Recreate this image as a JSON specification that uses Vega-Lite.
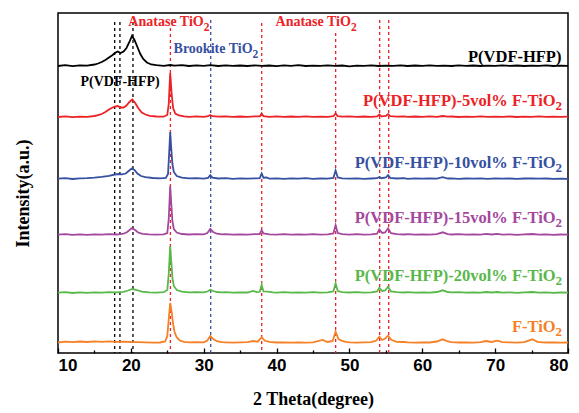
{
"$schema": "https://vega.github.io/schema/vega-lite/v6.json",
"width": 510, "height": 340,
"autosize": {"type": "none"},
"padding": {"left": 58, "top": 13, "right": 11, "bottom": 60},
"background": "white",
"config": {"view": {"stroke": "#000000", "strokeWidth": 1.5}, "font": "Liberation Serif"},
"datasets": {
"xrd": [
{"k":"a","x":10,"y":288},{"k":"a","x":11,"y":288.8},{"k":"a","x":12,"y":287.8},{"k":"a","x":13,"y":288.6},{"k":"a","x":14,"y":288.4},{"k":"a","x":15,"y":289.5},{"k":"a","x":15.5,"y":290.5},{"k":"a","x":16,"y":292},{"k":"a","x":16.5,"y":294},{"k":"a","x":17,"y":296.5},{"k":"a","x":17.5,"y":299},{"k":"a","x":17.8,"y":301},{"k":"a","x":18.2,"y":302.5},{"k":"a","x":18.6,"y":301},{"k":"a","x":19,"y":302.5},{"k":"a","x":19.4,"y":306},{"k":"a","x":19.8,"y":312},{"k":"a","x":20.15,"y":318},{"k":"a","x":20.5,"y":314},{"k":"a","x":20.9,"y":307},{"k":"a","x":21.3,"y":300},{"k":"a","x":21.7,"y":295},{"k":"a","x":22.2,"y":291.5},{"k":"a","x":22.8,"y":289.5},{"k":"a","x":23.5,"y":288.8},{"k":"a","x":24.5,"y":288.2},{"k":"a","x":25.4,"y":289},{"k":"a","x":26,"y":288.4},{"k":"a","x":27,"y":288.8},{"k":"a","x":28,"y":288},{"k":"a","x":29,"y":288.6},{"k":"a","x":30,"y":288.2},{"k":"a","x":30.9,"y":288.8},{"k":"a","x":32,"y":288},{"k":"a","x":33,"y":288.7},{"k":"a","x":34,"y":288.2},{"k":"a","x":35,"y":288.5},{"k":"a","x":36,"y":288},{"k":"a","x":37,"y":288.6},{"k":"a","x":38,"y":288.1},{"k":"a","x":39,"y":288.5},{"k":"a","x":40,"y":287.9},{"k":"a","x":41,"y":288.6},{"k":"a","x":42,"y":288.2},{"k":"a","x":43,"y":288.8},{"k":"a","x":44,"y":288},{"k":"a","x":45,"y":288.4},{"k":"a","x":46,"y":288.1},{"k":"a","x":47,"y":288.7},{"k":"a","x":48,"y":288.2},{"k":"a","x":49,"y":288.5},{"k":"a","x":50,"y":287.7},{"k":"a","x":51,"y":288.4},{"k":"a","x":52,"y":288.1},{"k":"a","x":53,"y":288.6},{"k":"a","x":54,"y":288},{"k":"a","x":55,"y":288.4},{"k":"a","x":56,"y":288.1},{"k":"a","x":57,"y":288.6},{"k":"a","x":58,"y":288},{"k":"a","x":59,"y":288.5},{"k":"a","x":60,"y":288.1},{"k":"a","x":61,"y":288.7},{"k":"a","x":62,"y":288.2},{"k":"a","x":63,"y":288.4},{"k":"a","x":64,"y":288},{"k":"a","x":65,"y":288.6},{"k":"a","x":66,"y":288.2},{"k":"a","x":67,"y":288.5},{"k":"a","x":68,"y":288},{"k":"a","x":69,"y":288.4},{"k":"a","x":70,"y":288.2},{"k":"a","x":71,"y":288.7},{"k":"a","x":72,"y":288.1},{"k":"a","x":73,"y":288.5},{"k":"a","x":74,"y":288},{"k":"a","x":75,"y":288.4},{"k":"a","x":76,"y":288.2},{"k":"a","x":77,"y":288.6},{"k":"a","x":78,"y":288},{"k":"a","x":79,"y":288.4},{"k":"a","x":80,"y":288.2},
{"k":"b","x":10,"y":237},{"k":"b","x":11,"y":237.6},{"k":"b","x":12,"y":236.8},{"k":"b","x":13,"y":237.4},{"k":"b","x":14,"y":237.2},{"k":"b","x":15,"y":238},{"k":"b","x":15.5,"y":238.8},{"k":"b","x":16,"y":240},{"k":"b","x":16.5,"y":242},{"k":"b","x":17,"y":244.5},{"k":"b","x":17.5,"y":246.5},{"k":"b","x":17.8,"y":247.5},{"k":"b","x":18.2,"y":248},{"k":"b","x":18.6,"y":246.5},{"k":"b","x":19,"y":246.5},{"k":"b","x":19.4,"y":248.5},{"k":"b","x":19.8,"y":252},{"k":"b","x":20.2,"y":254.5},{"k":"b","x":20.6,"y":251},{"k":"b","x":21,"y":246},{"k":"b","x":21.5,"y":241.5},{"k":"b","x":22,"y":239.5},{"k":"b","x":22.6,"y":238.2},{"k":"b","x":23.5,"y":237.5},{"k":"b","x":24.5,"y":237.3},{"k":"b","x":25,"y":239},{"k":"b","x":25.2,"y":250},{"k":"b","x":25.4,"y":281},{"k":"b","x":25.6,"y":260},{"k":"b","x":25.8,"y":246},{"k":"b","x":26.1,"y":240.5},{"k":"b","x":26.6,"y":238.5},{"k":"b","x":27.3,"y":237.6},{"k":"b","x":28,"y":237.2},{"k":"b","x":29,"y":237.7},{"k":"b","x":30,"y":237.2},{"k":"b","x":30.6,"y":237.8},{"k":"b","x":30.9,"y":239},{"k":"b","x":31.2,"y":237.8},{"k":"b","x":32,"y":237.3},{"k":"b","x":33,"y":237.7},{"k":"b","x":34,"y":237.1},{"k":"b","x":35,"y":237.5},{"k":"b","x":36,"y":237.2},{"k":"b","x":37,"y":237.6},{"k":"b","x":37.7,"y":237.6},{"k":"b","x":37.95,"y":240.5},{"k":"b","x":38.2,"y":237.8},{"k":"b","x":39,"y":237.2},{"k":"b","x":40,"y":237.6},{"k":"b","x":41,"y":237.1},{"k":"b","x":42,"y":237.5},{"k":"b","x":43,"y":237.2},{"k":"b","x":44,"y":237.7},{"k":"b","x":45,"y":237.1},{"k":"b","x":46,"y":237.4},{"k":"b","x":47,"y":237.2},{"k":"b","x":47.8,"y":237.8},{"k":"b","x":48.1,"y":240.5},{"k":"b","x":48.4,"y":237.8},{"k":"b","x":49,"y":237.3},{"k":"b","x":50,"y":237.6},{"k":"b","x":51,"y":237.1},{"k":"b","x":52,"y":237.5},{"k":"b","x":53,"y":237.2},{"k":"b","x":53.8,"y":237.6},{"k":"b","x":54.1,"y":239.5},{"k":"b","x":54.4,"y":237.6},{"k":"b","x":55,"y":238},{"k":"b","x":55.3,"y":239.8},{"k":"b","x":55.6,"y":237.8},{"k":"b","x":56.5,"y":237.3},{"k":"b","x":57.5,"y":237.6},{"k":"b","x":58,"y":237.1},{"k":"b","x":59,"y":237.5},{"k":"b","x":60,"y":237.2},{"k":"b","x":61,"y":237.6},{"k":"b","x":62,"y":237.1},{"k":"b","x":62.8,"y":238},{"k":"b","x":63.5,"y":237.3},{"k":"b","x":64,"y":237.5},{"k":"b","x":65,"y":237},{"k":"b","x":66,"y":237.4},{"k":"b","x":67,"y":237.1},{"k":"b","x":68,"y":237.6},{"k":"b","x":69,"y":237.2},{"k":"b","x":70,"y":237.4},{"k":"b","x":71,"y":237.1},{"k":"b","x":72,"y":237.5},{"k":"b","x":73,"y":237},{"k":"b","x":74,"y":237.4},{"k":"b","x":75,"y":237.2},{"k":"b","x":76,"y":237.6},{"k":"b","x":77,"y":237.1},{"k":"b","x":78,"y":237.4},{"k":"b","x":79,"y":237.2},{"k":"b","x":80,"y":237.3},
{"k":"c","x":10,"y":175.3},{"k":"c","x":11,"y":175.8},{"k":"c","x":12,"y":175},{"k":"c","x":13,"y":175.6},{"k":"c","x":14,"y":175.8},{"k":"c","x":15,"y":176.4},{"k":"c","x":16,"y":177.2},{"k":"c","x":17,"y":178.2},{"k":"c","x":17.8,"y":179.5},{"k":"c","x":18.3,"y":180},{"k":"c","x":18.8,"y":179.6},{"k":"c","x":19.3,"y":180.5},{"k":"c","x":19.7,"y":183},{"k":"c","x":20.1,"y":185.5},{"k":"c","x":20.5,"y":184},{"k":"c","x":20.9,"y":180.5},{"k":"c","x":21.4,"y":178},{"k":"c","x":22,"y":176.8},{"k":"c","x":23,"y":176},{"k":"c","x":24,"y":175.6},{"k":"c","x":24.8,"y":176},{"k":"c","x":25.1,"y":180},{"k":"c","x":25.25,"y":200},{"k":"c","x":25.4,"y":222},{"k":"c","x":25.55,"y":205},{"k":"c","x":25.7,"y":190},{"k":"c","x":25.9,"y":182},{"k":"c","x":26.3,"y":178},{"k":"c","x":27,"y":176.3},{"k":"c","x":28,"y":175.6},{"k":"c","x":29,"y":175.9},{"k":"c","x":30,"y":175.4},{"k":"c","x":30.6,"y":176.2},{"k":"c","x":30.9,"y":178.8},{"k":"c","x":31.2,"y":176.4},{"k":"c","x":32,"y":175.5},{"k":"c","x":33,"y":175.8},{"k":"c","x":34,"y":175.2},{"k":"c","x":35,"y":175.6},{"k":"c","x":36,"y":175.3},{"k":"c","x":37,"y":175.7},{"k":"c","x":37.7,"y":175.8},{"k":"c","x":37.95,"y":180.5},{"k":"c","x":38.2,"y":176.3},{"k":"c","x":38.6,"y":176.5},{"k":"c","x":39,"y":175.4},{"k":"c","x":40,"y":175.7},{"k":"c","x":41,"y":175.2},{"k":"c","x":42,"y":175.6},{"k":"c","x":43,"y":175.3},{"k":"c","x":44,"y":175.8},{"k":"c","x":45,"y":175.2},{"k":"c","x":46,"y":175.5},{"k":"c","x":47,"y":175.3},{"k":"c","x":47.8,"y":176},{"k":"c","x":48.1,"y":183.5},{"k":"c","x":48.4,"y":176.5},{"k":"c","x":49,"y":175.6},{"k":"c","x":50,"y":175.3},{"k":"c","x":51,"y":175.7},{"k":"c","x":52,"y":175.2},{"k":"c","x":53,"y":175.5},{"k":"c","x":53.8,"y":175.8},{"k":"c","x":54.1,"y":177},{"k":"c","x":54.4,"y":175.8},{"k":"c","x":55,"y":176.5},{"k":"c","x":55.3,"y":178.8},{"k":"c","x":55.6,"y":176.2},{"k":"c","x":56.5,"y":175.5},{"k":"c","x":57.5,"y":175.8},{"k":"c","x":58,"y":175.2},{"k":"c","x":59,"y":175.6},{"k":"c","x":60,"y":175.3},{"k":"c","x":61,"y":175.6},{"k":"c","x":62,"y":175.3},{"k":"c","x":62.8,"y":176.8},{"k":"c","x":63.5,"y":175.5},{"k":"c","x":64,"y":175.7},{"k":"c","x":65,"y":175.2},{"k":"c","x":66,"y":175.5},{"k":"c","x":67,"y":175.3},{"k":"c","x":68,"y":175.6},{"k":"c","x":69,"y":175.2},{"k":"c","x":70,"y":175.7},{"k":"c","x":71,"y":175.3},{"k":"c","x":72,"y":175.5},{"k":"c","x":73,"y":175.1},{"k":"c","x":74,"y":175.5},{"k":"c","x":75,"y":175.6},{"k":"c","x":76,"y":175.3},{"k":"c","x":77,"y":175.5},{"k":"c","x":78,"y":175.1},{"k":"c","x":79,"y":175.4},{"k":"c","x":80,"y":175.2},
{"k":"d","x":10,"y":119.3},{"k":"d","x":11,"y":119.8},{"k":"d","x":12,"y":119.1},{"k":"d","x":13,"y":119.6},{"k":"d","x":14,"y":119.2},{"k":"d","x":15,"y":119.7},{"k":"d","x":16,"y":119.4},{"k":"d","x":17,"y":119.9},{"k":"d","x":18,"y":119.5},{"k":"d","x":18.5,"y":119.8},{"k":"d","x":19,"y":120.3},{"k":"d","x":19.5,"y":122},{"k":"d","x":20.1,"y":125.7},{"k":"d","x":20.5,"y":124.5},{"k":"d","x":21,"y":121.5},{"k":"d","x":21.6,"y":120.2},{"k":"d","x":22.5,"y":119.6},{"k":"d","x":23.5,"y":119.4},{"k":"d","x":24.5,"y":119.6},{"k":"d","x":25,"y":121},{"k":"d","x":25.2,"y":135},{"k":"d","x":25.4,"y":168},{"k":"d","x":25.55,"y":150},{"k":"d","x":25.7,"y":133},{"k":"d","x":25.9,"y":125},{"k":"d","x":26.3,"y":121.5},{"k":"d","x":27,"y":120},{"k":"d","x":28,"y":119.5},{"k":"d","x":29,"y":119.8},{"k":"d","x":30,"y":119.6},{"k":"d","x":30.5,"y":121},{"k":"d","x":30.9,"y":125},{"k":"d","x":31.3,"y":122},{"k":"d","x":31.8,"y":120.3},{"k":"d","x":32.5,"y":119.6},{"k":"d","x":33,"y":119.8},{"k":"d","x":34,"y":119.3},{"k":"d","x":35,"y":119.7},{"k":"d","x":36,"y":119.4},{"k":"d","x":37,"y":119.8},{"k":"d","x":37.7,"y":120},{"k":"d","x":37.95,"y":123.8},{"k":"d","x":38.2,"y":120.5},{"k":"d","x":39,"y":119.6},{"k":"d","x":40,"y":119.4},{"k":"d","x":41,"y":119.8},{"k":"d","x":42,"y":119.3},{"k":"d","x":43,"y":119.7},{"k":"d","x":44,"y":119.4},{"k":"d","x":45,"y":119.8},{"k":"d","x":46,"y":119.3},{"k":"d","x":47,"y":119.6},{"k":"d","x":47.8,"y":120.5},{"k":"d","x":48.1,"y":128.8},{"k":"d","x":48.4,"y":121},{"k":"d","x":49,"y":119.8},{"k":"d","x":50,"y":119.4},{"k":"d","x":51,"y":119.8},{"k":"d","x":52,"y":119.3},{"k":"d","x":53,"y":119.7},{"k":"d","x":53.8,"y":120.3},{"k":"d","x":54.1,"y":124.7},{"k":"d","x":54.5,"y":121},{"k":"d","x":54.9,"y":121.5},{"k":"d","x":55.3,"y":125.7},{"k":"d","x":55.7,"y":120.8},{"k":"d","x":56.5,"y":119.8},{"k":"d","x":57.5,"y":119.5},{"k":"d","x":58,"y":119.8},{"k":"d","x":59,"y":119.3},{"k":"d","x":60,"y":119.7},{"k":"d","x":61,"y":119.4},{"k":"d","x":62,"y":119.8},{"k":"d","x":62.8,"y":121.7},{"k":"d","x":63.5,"y":119.9},{"k":"d","x":64,"y":119.5},{"k":"d","x":65,"y":119.8},{"k":"d","x":66,"y":119.3},{"k":"d","x":67,"y":119.6},{"k":"d","x":68,"y":119.4},{"k":"d","x":68.8,"y":120.2},{"k":"d","x":69.5,"y":119.5},{"k":"d","x":70.3,"y":120.2},{"k":"d","x":71,"y":119.4},{"k":"d","x":72,"y":119.6},{"k":"d","x":73,"y":119.2},{"k":"d","x":74,"y":119.6},{"k":"d","x":75.1,"y":120},{"k":"d","x":76,"y":119.4},{"k":"d","x":77,"y":119.7},{"k":"d","x":78,"y":119.2},{"k":"d","x":79,"y":119.5},{"k":"d","x":80,"y":119.4},
{"k":"e","x":10,"y":61.3},{"k":"e","x":11,"y":61.8},{"k":"e","x":12,"y":61},{"k":"e","x":13,"y":61.6},{"k":"e","x":14,"y":61.2},{"k":"e","x":15,"y":61.7},{"k":"e","x":16,"y":61.4},{"k":"e","x":17,"y":61.9},{"k":"e","x":18,"y":61.6},{"k":"e","x":19,"y":62.2},{"k":"e","x":19.6,"y":63.5},{"k":"e","x":20.2,"y":65},{"k":"e","x":20.8,"y":64},{"k":"e","x":21.5,"y":62.3},{"k":"e","x":22.5,"y":61.6},{"k":"e","x":23.5,"y":61.4},{"k":"e","x":24.5,"y":61.8},{"k":"e","x":25,"y":64},{"k":"e","x":25.2,"y":80},{"k":"e","x":25.4,"y":108},{"k":"e","x":25.55,"y":92},{"k":"e","x":25.7,"y":76},{"k":"e","x":25.9,"y":68},{"k":"e","x":26.3,"y":64},{"k":"e","x":27,"y":62.3},{"k":"e","x":28,"y":61.6},{"k":"e","x":29,"y":61.9},{"k":"e","x":30,"y":61.6},{"k":"e","x":30.5,"y":62.5},{"k":"e","x":30.9,"y":64.3},{"k":"e","x":31.3,"y":63},{"k":"e","x":31.8,"y":62},{"k":"e","x":32.5,"y":61.6},{"k":"e","x":33,"y":61.9},{"k":"e","x":34,"y":61.3},{"k":"e","x":35,"y":61.7},{"k":"e","x":36,"y":61.5},{"k":"e","x":36.8,"y":63},{"k":"e","x":37.3,"y":61.8},{"k":"e","x":37.7,"y":62.2},{"k":"e","x":37.95,"y":69},{"k":"e","x":38.2,"y":62.5},{"k":"e","x":38.8,"y":62.3},{"k":"e","x":39.5,"y":61.6},{"k":"e","x":40,"y":61.3},{"k":"e","x":41,"y":61.8},{"k":"e","x":42,"y":61.3},{"k":"e","x":43,"y":61.7},{"k":"e","x":44,"y":61.4},{"k":"e","x":45,"y":61.8},{"k":"e","x":46,"y":61.4},{"k":"e","x":47,"y":61.7},{"k":"e","x":47.8,"y":62.5},{"k":"e","x":48.1,"y":70.7},{"k":"e","x":48.4,"y":63},{"k":"e","x":49,"y":61.8},{"k":"e","x":50,"y":61.5},{"k":"e","x":51,"y":61.8},{"k":"e","x":52,"y":61.3},{"k":"e","x":53,"y":61.7},{"k":"e","x":53.8,"y":62.5},{"k":"e","x":54.1,"y":66.3},{"k":"e","x":54.5,"y":63},{"k":"e","x":54.9,"y":63.5},{"k":"e","x":55.3,"y":67.3},{"k":"e","x":55.7,"y":62.7},{"k":"e","x":56.5,"y":61.8},{"k":"e","x":57.5,"y":61.5},{"k":"e","x":58,"y":61.8},{"k":"e","x":59,"y":61.3},{"k":"e","x":60,"y":61.7},{"k":"e","x":61,"y":61.4},{"k":"e","x":62,"y":62},{"k":"e","x":62.8,"y":63.7},{"k":"e","x":63.5,"y":62},{"k":"e","x":64,"y":61.6},{"k":"e","x":65,"y":61.8},{"k":"e","x":66,"y":61.3},{"k":"e","x":67,"y":61.6},{"k":"e","x":68,"y":61.4},{"k":"e","x":68.8,"y":62},{"k":"e","x":69.5,"y":61.5},{"k":"e","x":70.3,"y":62},{"k":"e","x":71,"y":61.4},{"k":"e","x":72,"y":61.6},{"k":"e","x":73,"y":61.2},{"k":"e","x":74,"y":61.6},{"k":"e","x":75.1,"y":62},{"k":"e","x":76,"y":61.4},{"k":"e","x":77,"y":61.7},{"k":"e","x":78,"y":61.2},{"k":"e","x":79,"y":61.5},{"k":"e","x":80,"y":61.4},
{"k":"f","x":10,"y":11.5},{"k":"f","x":11,"y":12.3},{"k":"f","x":12,"y":11.8},{"k":"f","x":13,"y":12.5},{"k":"f","x":14,"y":12},{"k":"f","x":15,"y":12.6},{"k":"f","x":16,"y":12.2},{"k":"f","x":17,"y":12.6},{"k":"f","x":18,"y":12.1},{"k":"f","x":19,"y":12.4},{"k":"f","x":20,"y":12},{"k":"f","x":21,"y":11.8},{"k":"f","x":22,"y":11.6},{"k":"f","x":23,"y":11.4},{"k":"f","x":24,"y":11.5},{"k":"f","x":24.7,"y":12.5},{"k":"f","x":25,"y":18},{"k":"f","x":25.2,"y":35},{"k":"f","x":25.4,"y":51},{"k":"f","x":25.6,"y":42},{"k":"f","x":25.8,"y":30},{"k":"f","x":26,"y":22},{"k":"f","x":26.3,"y":16.5},{"k":"f","x":26.7,"y":13.5},{"k":"f","x":27.3,"y":12.2},{"k":"f","x":28,"y":11.6},{"k":"f","x":29,"y":11.9},{"k":"f","x":30,"y":11.7},{"k":"f","x":30.5,"y":13.5},{"k":"f","x":30.9,"y":18},{"k":"f","x":31.3,"y":15},{"k":"f","x":31.8,"y":12.8},{"k":"f","x":32.5,"y":11.8},{"k":"f","x":33,"y":11.6},{"k":"f","x":34,"y":11.3},{"k":"f","x":35,"y":11.7},{"k":"f","x":36,"y":11.9},{"k":"f","x":36.8,"y":13},{"k":"f","x":37.4,"y":12.3},{"k":"f","x":37.95,"y":16.7},{"k":"f","x":38.4,"y":13.2},{"k":"f","x":39,"y":12.2},{"k":"f","x":40,"y":11.5},{"k":"f","x":41,"y":11.7},{"k":"f","x":42,"y":11.3},{"k":"f","x":43,"y":11.6},{"k":"f","x":44,"y":11.4},{"k":"f","x":45,"y":11.7},{"k":"f","x":46.3,"y":14},{"k":"f","x":47,"y":12},{"k":"f","x":47.7,"y":13},{"k":"f","x":48.1,"y":22.3},{"k":"f","x":48.5,"y":15},{"k":"f","x":49,"y":13},{"k":"f","x":49.5,"y":12.2},{"k":"f","x":50,"y":11.7},{"k":"f","x":51,"y":11.4},{"k":"f","x":52,"y":11.6},{"k":"f","x":53,"y":11.8},{"k":"f","x":53.7,"y":13.5},{"k":"f","x":54.1,"y":17.3},{"k":"f","x":54.5,"y":14},{"k":"f","x":54.9,"y":15.5},{"k":"f","x":55.3,"y":18.3},{"k":"f","x":55.8,"y":14},{"k":"f","x":56.5,"y":12.2},{"k":"f","x":57.5,"y":12},{"k":"f","x":58,"y":11.6},{"k":"f","x":59,"y":11.4},{"k":"f","x":60,"y":11.7},{"k":"f","x":61,"y":11.5},{"k":"f","x":62,"y":12.5},{"k":"f","x":62.8,"y":14.7},{"k":"f","x":63.5,"y":12.5},{"k":"f","x":64,"y":11.8},{"k":"f","x":65,"y":11.5},{"k":"f","x":66,"y":11.7},{"k":"f","x":67,"y":11.4},{"k":"f","x":68,"y":11.8},{"k":"f","x":68.8,"y":13},{"k":"f","x":69.5,"y":12},{"k":"f","x":70.3,"y":13.3},{"k":"f","x":71,"y":11.9},{"k":"f","x":72,"y":11.6},{"k":"f","x":73,"y":11.4},{"k":"f","x":74,"y":11.8},{"k":"f","x":75.1,"y":14.7},{"k":"f","x":75.8,"y":12.2},{"k":"f","x":76.5,"y":11.6},{"k":"f","x":77,"y":11.5},{"k":"f","x":78,"y":11.7},{"k":"f","x":79,"y":11.4},{"k":"f","x":80,"y":11.5}
],
"refs": [
{"k":"a","x":17.78,"y":332},{"k":"a","x":18.5,"y":332},{"k":"a","x":20.29,"y":332},
{"k":"b","x":25.43,"y":326},{"k":"c","x":30.96,"y":334},{"k":"b","x":37.96,"y":331},
{"k":"b","x":48.11,"y":321},{"k":"b","x":54.15,"y":334},{"k":"b","x":55.39,"y":334}
],
"series": [
{"k":"a","x":79.1,"y":292,"t":"P(VDF-HFP)","sub":""},
{"k":"b","x":78.3,"y":248,"t":"P(VDF-HFP)-5vol% F-TiO","sub":"2"},
{"k":"c","x":78.3,"y":186,"t":"P(VDF-HFP)-10vol% F-TiO","sub":"2"},
{"k":"d","x":78.3,"y":130.7,"t":"P(VDF-HFP)-15vol% F-TiO","sub":"2"},
{"k":"e","x":78.3,"y":73.3,"t":"P(VDF-HFP)-20vol% F-TiO","sub":"2"},
{"k":"f","x":78.3,"y":22.3,"t":"F-TiO","sub":"2"}
],
"notes": [
{"k":"b","x":30.0,"y":328,"t":"Anatase TiO","sub":"2"},
{"k":"b","x":50.2,"y":328,"t":"Anatase TiO","sub":"2"},
{"k":"c","x":36.7,"y":301,"t":"Brookite TiO","sub":"2"},
{"k":"a","x":23.97,"y":268,"t":"P(VDF-HFP)","sub":""}
]
},
"encoding": {
"x": {"field": "x", "type": "quantitative", "scale": {"domain": [10, 80], "nice": false, "zero": false},
 "axis": {"title": "2 Theta(degree)", "values": [10,15,20,25,30,35,40,45,50,55,60,65,70,75,80],
  "labelExpr": "datum.value % 10 === 0 ? datum.label : ''",
  "tickSize": {"condition": {"test": "datum.value % 10 === 0", "value": -5}, "value": -3},
  "tickColor": "#000000", "tickWidth": 1.3, "domain": false, "grid": false,
  "labelFont": "Liberation Sans", "labelFontWeight": "bold", "labelFontSize": 17, "labelColor": "#000000", "labelPadding": 9,
  "titleFont": "Liberation Serif", "titleFontWeight": "bold", "titleFontSize": 18, "titleColor": "#000000", "titleBaseline": "alphabetic", "titleY": 51}},
"y": {"field": "y", "type": "quantitative", "scale": {"domain": [1, 341], "nice": false, "zero": false},
 "axis": {"title": "Intensity(a.u.)", "ticks": false, "labels": false, "domain": false, "grid": false,
  "titleFont": "Liberation Serif", "titleFontWeight": "bold", "titleFontSize": 18, "titleColor": "#000000",
  "titleAngle": -90, "titleAlign": "center", "titleBaseline": "middle", "titleX": -35, "titleY": 180}},
"color": {"field": "k", "type": "nominal", "legend": null,
 "scale": {"domain": ["a","b","c","d","e","f"], "range": ["#000000","#ec2226","#3650a2","#a4489e","#58b84a","#f58025"]}}
},
"layer": [
{"data": {"name": "refs"}, "mark": {"type": "rule", "strokeDash": [3, 3], "strokeWidth": 1.3},
 "encoding": {"y2": {"datum": 1}}},
{"data": {"name": "xrd"}, "mark": {"type": "line", "strokeWidth": 1.8, "interpolate": "linear"},
 "encoding": {"detail": {"field": "k"}}},
{"data": {"name": "series"}, "mark": {"type": "text", "align": "right", "baseline": "alphabetic", "fontWeight": "bold", "fontSize": 16.5, "font": "Liberation Serif"},
 "encoding": {"text": {"field": "t"}}},
{"data": {"name": "series"}, "mark": {"type": "text", "align": "left", "baseline": "alphabetic", "fontWeight": "bold", "fontSize": 13, "dy": 4, "font": "Liberation Serif"},
 "encoding": {"text": {"field": "sub"}}},
{"data": {"name": "notes"}, "mark": {"type": "text", "align": "right", "baseline": "alphabetic", "fontWeight": "bold", "fontSize": 14, "font": "Liberation Serif"},
 "encoding": {"text": {"field": "t"}}},
{"data": {"name": "notes"}, "mark": {"type": "text", "align": "left", "baseline": "alphabetic", "fontWeight": "bold", "fontSize": 11.5, "dy": 5, "font": "Liberation Serif"},
 "encoding": {"text": {"field": "sub"}}}
]
}
